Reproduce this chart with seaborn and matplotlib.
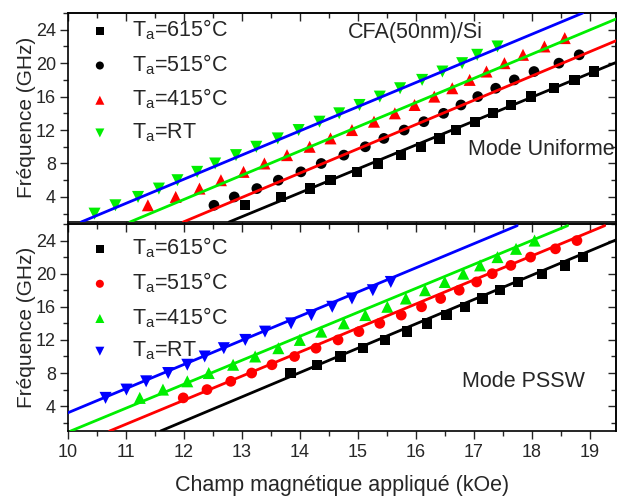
import matplotlib
matplotlib.use("Agg")
import matplotlib.pyplot as plt
import seaborn as sns
import pandas as pd
from matplotlib.ticker import MultipleLocator

# ---------------- data ----------------
labels = ["T$_a$=615°C", "T$_a$=515°C", "T$_a$=415°C", "T$_a$=RT"]
xticks = [10, 11, 12, 13, 14, 15, 16, 17, 18, 19]
yticks = [4, 8, 12, 16, 20, 24]

# Top panel : Mode Uniforme
uni_H_615 = [13.06, 13.68, 14.18, 14.53, 14.99, 15.35, 15.74, 16.09, 16.41, 16.70, 17.02,
             17.33, 17.64, 17.99, 18.39, 18.74, 19.07]
uni_f_615 = [3, 4, 5, 6, 7, 8, 9, 10, 11, 12, 13, 14, 15, 16, 17, 18, 19]
uni_H_515 = [12.52, 12.87, 13.26, 13.63, 14.02, 14.37, 14.76, 15.13, 15.45, 15.80, 16.14,
             16.48, 16.78, 17.07, 17.38, 17.70, 18.04, 18.47, 18.82]
uni_f_515 = [3, 4, 5, 6, 7, 8, 9, 10, 11, 12, 13, 14, 15, 16, 17, 18, 19, 20, 21]
uni_H_415 = [11.38, 11.86, 12.27, 12.64, 13.03, 13.39, 13.78, 14.17, 14.53, 14.90, 15.28,
             15.64, 15.98, 16.32, 16.63, 16.93, 17.22, 17.53, 17.85, 18.22, 18.57]
uni_f_415 = [3, 4, 5, 6, 7, 8, 9, 10, 11, 12, 13, 14, 15, 16, 17, 18, 19, 20, 21, 22, 23]
uni_H_RT = [10.46, 10.82, 11.21, 11.57, 11.89, 12.23, 12.54, 12.90, 13.25, 13.62, 13.98,
            14.34, 14.68, 15.03, 15.38, 15.73, 16.11, 16.46, 16.80, 17.06, 17.41]
uni_f_RT = [2, 3, 4, 5, 6, 7, 8, 9, 10, 11, 12, 13, 14, 15, 16, 17, 18, 19, 20, 21, 22]

# linear fits (end points) – top panel
uni_fit_H_615, uni_fit_f_615 = [12.78, 19.46], [1.0, 20.1]
uni_fit_H_515, uni_fit_f_515 = [11.99, 19.46], [1.0, 22.7]
uni_fit_H_415, uni_fit_f_415 = [11.07, 19.46], [1.0, 25.3]
uni_fit_H_RT, uni_fit_f_RT = [10.23, 18.88], [1.0, 26.0]

# Bottom panel : Mode PSSW
pssw_H_615 = [13.84, 14.30, 14.70, 15.09, 15.47, 15.85, 16.19, 16.53, 16.85, 17.15, 17.45,
              17.76, 18.18, 18.58, 18.88]
pssw_f_615 = [8, 9, 10, 11, 12, 13, 14, 15, 16, 17, 18, 19, 20, 21, 22]
pssw_H_515 = [11.99, 12.40, 12.81, 13.17, 13.52, 13.91, 14.28, 14.66, 15.02, 15.38, 15.75,
              16.10, 16.43, 16.75, 17.05, 17.32, 17.64, 17.98, 18.41, 18.78]
pssw_f_515 = [5, 6, 7, 8, 9, 10, 11, 12, 13, 14, 15, 16, 17, 18, 19, 20, 21, 22, 23, 24]
pssw_H_415 = [11.24, 11.64, 12.06, 12.43, 12.85, 13.23, 13.63, 14.00, 14.37, 14.76, 15.13,
              15.51, 15.83, 16.16, 16.50, 16.82, 17.11, 17.41, 17.73, 18.05]
pssw_f_415 = [5, 6, 7, 8, 9, 10, 11, 12, 13, 14, 15, 16, 17, 18, 19, 20, 21, 22, 23, 24]
pssw_H_RT = [10.65, 11.01, 11.35, 11.73, 12.06, 12.36, 12.69, 13.06, 13.40, 13.85, 14.20,
             14.56, 14.90, 15.26, 15.57]
pssw_f_RT = [5, 6, 7, 8, 9, 10, 11, 12, 13, 14, 15, 16, 17, 18, 19]

# linear fits (end points) – bottom panel
pssw_fit_H_615, pssw_fit_f_615 = [11.60, 19.46], [1.0, 24.1]
pssw_fit_H_515, pssw_fit_f_515 = [10.72, 19.26], [1.0, 25.8]
pssw_fit_H_415, pssw_fit_f_415 = [10.05, 18.62], [1.0, 25.8]
pssw_fit_H_RT, pssw_fit_f_RT = [10.00, 17.75], [3.2, 25.8]

# ---------------- style ----------------
sns.set_theme(style="ticks")
plt.rcParams["font.family"] = ["Liberation Sans", "DejaVu Sans"]
plt.rcParams["mathtext.default"] = "regular"
plt.rcParams["axes.linewidth"] = 1.2

BLACK, RED, GREEN, BLUE = "#000000", "#ff0000", "#00ee00", "#0000ff"

fig = plt.figure(figsize=(6.17, 4.97), dpi=100)
ax1 = fig.add_axes([0.110, 0.5533, 0.888, 0.4205])
ax2 = fig.add_axes([0.110, 0.1328, 0.888, 0.4165])

top_series = [
    (uni_H_615, uni_f_615, "s", BLACK, 55),
    (uni_H_515, uni_f_515, "o", BLACK, 60),
    (uni_H_415, uni_f_415, "^", RED, 75),
    (uni_H_RT, uni_f_RT, "v", GREEN, 75),
]
top_fits = [
    (uni_fit_H_615, uni_fit_f_615, BLACK),
    (uni_fit_H_515, uni_fit_f_515, RED),
    (uni_fit_H_415, uni_fit_f_415, GREEN),
    (uni_fit_H_RT, uni_fit_f_RT, BLUE),
]
bot_series = [
    (pssw_H_615, pssw_f_615, "s", BLACK, 55),
    (pssw_H_515, pssw_f_515, "o", RED, 60),
    (pssw_H_415, pssw_f_415, "^", GREEN, 75),
    (pssw_H_RT, pssw_f_RT, "v", BLUE, 75),
]
bot_fits = [
    (pssw_fit_H_615, pssw_fit_f_615, BLACK),
    (pssw_fit_H_515, pssw_fit_f_515, RED),
    (pssw_fit_H_415, pssw_fit_f_415, GREEN),
    (pssw_fit_H_RT, pssw_fit_f_RT, BLUE),
]


def draw(ax, series, fits, leg_y):
    handles = []
    for (H, f, m, c, s), lab in zip(series, labels):
        df = pd.DataFrame({"H": H, "f": f})
        sns.scatterplot(data=df, x="H", y="f", marker=m, color=c, s=s,
                        edgecolor="none", linewidth=0, ax=ax, zorder=3)
        handles.append(ax.collections[-1])
    for H, f, c in fits:
        df = pd.DataFrame({"H": H, "f": f})
        sns.lineplot(data=df, x="H", y="f", color=c, lw=2.0, ax=ax, zorder=4)
    ax.set_xlim(10, 19.45)
    ax.set_ylim(1, 26)
    ax.set_xticks(xticks)
    ax.set_yticks(yticks)
    ax.xaxis.set_minor_locator(MultipleLocator(0.5))
    ax.yaxis.set_minor_locator(MultipleLocator(2))
    ax.tick_params(axis="both", which="both", direction="out", labelsize=13, width=1.0,
                   top=False, right=False)
    ax.tick_params(axis="both", which="major", length=5.5)
    ax.tick_params(axis="both", which="minor", length=3.5)
    ax.tick_params(axis="y", pad=3)
    ax.tick_params(axis="x", pad=4)
    ax.set_ylabel("Fréquence (GHz)", fontsize=15)
    ax.yaxis.set_label_coords(-0.059, 0.5)
    for sp in ax.spines.values():
        sp.set_linewidth(1.2)
        sp.set_color("black")
    ax.legend(handles, labels, loc="upper left", bbox_to_anchor=(0.023, leg_y),
              frameon=False, fontsize=15.5, markerscale=0.75, handlelength=1.0,
              handletextpad=0.98, labelspacing=0.47, borderaxespad=0.0)

    # mirrored axes with inward ticks (top & right)
    sx = ax.secondary_xaxis("top")
    sx.set_xticks(xticks)
    sx.xaxis.set_minor_locator(MultipleLocator(0.5))
    sx.tick_params(axis="x", which="both", direction="in", labeltop=False, width=1.0)
    sx.tick_params(axis="x", which="major", length=5.5)
    sx.tick_params(axis="x", which="minor", length=3.5)
    sx.spines["top"].set_linewidth(1.2)
    sy = ax.secondary_yaxis("right")
    sy.set_yticks(yticks)
    sy.yaxis.set_minor_locator(MultipleLocator(2))
    sy.tick_params(axis="y", which="both", direction="in", labelright=False, width=1.0)
    sy.tick_params(axis="y", which="major", length=5.5)
    sy.tick_params(axis="y", which="minor", length=3.5)
    sy.spines["right"].set_linewidth(1.2)


draw(ax1, top_series, top_fits, 1.02)
draw(ax2, bot_series, bot_fits, 0.985)

ax1.set_xlabel("")
ax1.tick_params(axis="x", labelbottom=False)
ax2.set_xlabel("Champ magnétique appliqué (kOe)", fontsize=15.5)
ax2.xaxis.set_label_coords(0.5, -0.212)

ax1.text(0.635, 0.905, "CFA(50nm)/Si", transform=ax1.transAxes, fontsize=15.5,
         ha="center", va="center")
ax1.text(0.998, 0.345, "Mode Uniforme", transform=ax1.transAxes, fontsize=15.5,
         ha="right", va="center")
ax2.text(0.831, 0.237, "Mode PSSW", transform=ax2.transAxes, fontsize=15.5,
         ha="center", va="center")

fig.savefig("out.png", dpi=100)
